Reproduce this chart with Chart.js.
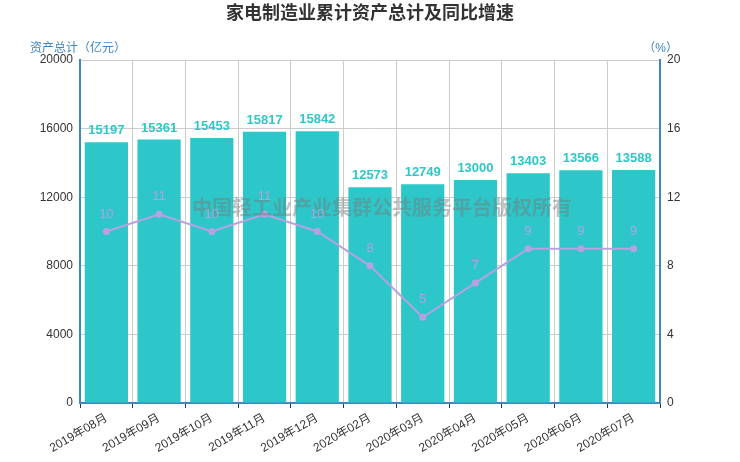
<!DOCTYPE html>
<html>
<head>
<meta charset="utf-8">
<script src="https://cdn.jsdelivr.net/npm/chart.js@4.4.1/dist/chart.umd.min.js"></script>
<style>
  html, body { margin: 0; padding: 0; background: #fff; }
  #wrap { width: 740px; height: 462px; }
</style>
</head>
<body>
<div id="wrap"><canvas id="grafico"></canvas></div>
<script>
const categories = ["2019年08月", "2019年09月", "2019年10月", "2019年11月", "2019年12月",
  "2020年02月", "2020年03月", "2020年04月", "2020年05月", "2020年06月", "2020年07月"];
const assetTotals = [15197, 15361, 15453, 15817, 15842, 12573, 12749, 13000, 13403, 13566, 13588];
const growthRates = [10, 11, 10, 11, 10, 8, 5, 7, 9, 9, 9];
const leftTicks = [0, 4000, 8000, 12000, 16000, 20000];
const rightTicks = [0, 4, 8, 12, 16, 20];

const FONT = "Arial, 'Liberation Sans', 'Noto Sans CJK SC', sans-serif";
const BAR_COLOR = "#2ec7c9";
const LINE_COLOR = "#b6a2de";
const AXIS_COLOR = "#3e87c1";

// textos fixos: título, títulos dos eixos e marca d'água
const extrasPlugin = {
  id: "extras",
  afterDatasetsDraw(chart) {
    const ctx = chart.ctx;
    const area = chart.chartArea;
    ctx.save();
    // marca d'água
    ctx.font = "bold 20px " + FONT;
    ctx.fillStyle = "rgba(120,120,120,0.45)";
    ctx.textAlign = "center";
    ctx.textBaseline = "middle";
    ctx.fillText("中国轻工业产业集群公共服务平台版权所有", 382, 209);

    // rótulos das barras
    const barMeta = chart.getDatasetMeta(1);
    ctx.font = "bold 13px " + FONT;
    ctx.fillStyle = BAR_COLOR;
    ctx.textBaseline = "bottom";
    barMeta.data.forEach((el, i) => {
      ctx.fillText(String(assetTotals[i]), el.x, el.y - 5);
    });

    // rótulos da linha
    const lineMeta = chart.getDatasetMeta(0);
    ctx.font = "13px " + FONT;
    ctx.fillStyle = LINE_COLOR;
    lineMeta.data.forEach((el, i) => {
      ctx.fillText(String(growthRates[i]), el.x, el.y - 11);
    });

    // título
    ctx.font = "bold 18px " + FONT;
    ctx.fillStyle = "#333";
    ctx.textBaseline = "middle";
    ctx.fillText("家电制造业累计资产总计及同比增速", 370, 14);

    // títulos dos eixos
    ctx.font = "12px " + FONT;
    ctx.fillStyle = AXIS_COLOR;
    ctx.textAlign = "left";
    ctx.fillText("资产总计（亿元）", 30, 49);
    ctx.textAlign = "right";
    ctx.fillText("（%）", area.right + 18, 49);
    ctx.restore();
  }
};

function loadChart(canvas) {
  return new Chart(canvas, {
    type: "bar",
    data: {
      labels: categories,
      datasets: [
        {
          type: "line",
          label: "同比增速",
          data: growthRates,
          yAxisID: "yRight",
          borderColor: LINE_COLOR,
          backgroundColor: LINE_COLOR,
          borderWidth: 2,
          pointRadius: 3.5,
          pointBackgroundColor: LINE_COLOR,
          pointBorderWidth: 0,
          tension: 0,
          order: 1,
        },
        {
          label: "资产总计",
          data: assetTotals,
          yAxisID: "yLeft",
          backgroundColor: BAR_COLOR,
          barPercentage: 0.82,
          categoryPercentage: 1,
          order: 2,
        },
      ],
    },
    options: {
      responsive: true,
      maintainAspectRatio: false,
      animation: false,
      layout: { padding: { top: 60, left: 0, right: 0, bottom: 0 } },
      plugins: {
        legend: { display: false },
        tooltip: { enabled: false },
        title: { display: false },
      },
      scales: {
        x: {
          offset: true,
          grid: { offset: true, color: "#cccccc", tickColor: "#333", tickLength: 5 },
          border: { color: AXIS_COLOR, width: 2 },
          ticks: {
            color: "#333",
            font: { size: 12, family: FONT },
            minRotation: 30,
            maxRotation: 30,
            padding: 3,
          },
          afterFit(scale) { scale.height = 59; },
        },
        yLeft: {
          position: "left",
          min: 0,
          max: 20000,
          afterBuildTicks(scale) { scale.ticks = leftTicks.map(v => ({ value: v })); },
          grid: { color: "#cccccc", drawTicks: false },
          border: { color: AXIS_COLOR, width: 2 },
          ticks: {
            color: "#333",
            font: { size: 12, family: FONT },
            padding: 7,
            callback: (v) => String(v),
          },
          afterFit(scale) { scale.width = 80; },
        },
        yRight: {
          position: "right",
          min: 0,
          max: 20,
          afterBuildTicks(scale) { scale.ticks = rightTicks.map(v => ({ value: v })); },
          grid: { display: false, drawTicks: false },
          border: { color: AXIS_COLOR, width: 2 },
          ticks: {
            color: "#333",
            font: { size: 12, family: FONT },
            padding: 7,
            callback: (v) => String(v),
          },
          afterFit(scale) { scale.width = 80; },
        },
      },
    },
    plugins: [extrasPlugin],
  });
}

document.addEventListener("DOMContentLoaded", () => {
  const canvas = document.getElementById("grafico");
  if (canvas) loadChart(canvas);
});
</script>
</body>
</html>
